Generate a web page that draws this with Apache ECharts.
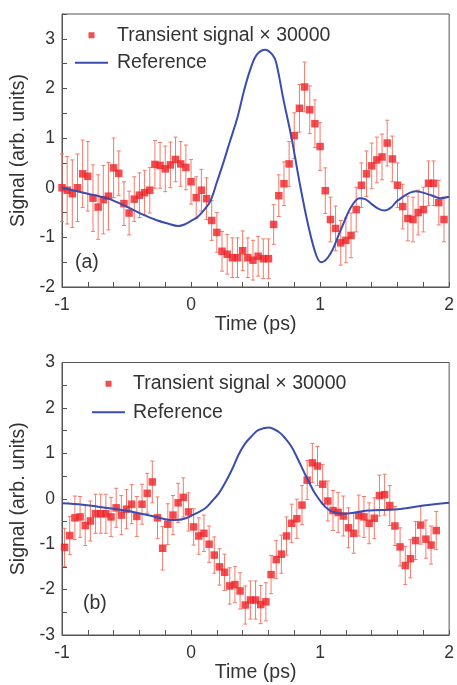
<!DOCTYPE html>
<html><head><meta charset="utf-8">
<script src="https://cdn.jsdelivr.net/npm/echarts@6/dist/echarts.min.js"></script>
<style>html,body{margin:0;padding:0;background:#fff}#c{width:457px;height:685px}</style>
</head><body><div id="c"></div>
<script>
// ---------- Panel (a) ----------
const timeA = [-1.00,-0.96,-0.92,-0.88,-0.84,-0.80,-0.76,-0.72,-0.68,-0.64,-0.60,-0.56,-0.52,-0.48,-0.44,-0.40,-0.36,-0.32,-0.28,-0.24,-0.20,-0.16,-0.12,-0.08,-0.04,0.00,0.04,0.08,0.12,0.16,0.20,0.24,0.28,0.32,0.36,0.40,0.44,0.48,0.52,0.56,0.60,0.64,0.68,0.72,0.76,0.80,0.84,0.88,0.92,0.96,1.00,1.04,1.08,1.12,1.16,1.20,1.24,1.28,1.32,1.36,1.40,1.44,1.48,1.52,1.56,1.60,1.64,1.68,1.72,1.76,1.80,1.84,1.88,1.92,1.96];
const signalA = [0.00,-0.05,-0.12,0.00,0.28,0.23,-0.21,-0.39,-0.24,-0.17,
  0.40,0.29,-0.32,-0.51,-0.23,-0.15,-0.10,-0.05,0.47,0.45,
  0.38,0.46,0.57,0.48,0.41,0.12,-0.20,-0.05,-0.22,-0.66,
  -0.90,-1.28,-1.34,-1.41,-1.41,-1.27,-1.41,-1.46,-1.38,-1.43,
  -1.43,-0.74,-0.16,0.08,0.48,1.05,1.60,2.03,1.57,1.29,
  0.83,-0.06,-0.64,-0.82,-1.11,-1.06,-0.96,-0.44,0.05,0.28,
  0.44,0.56,0.62,0.90,0.58,0.05,-0.38,-0.62,-0.64,-0.50,
  -0.44,0.09,0.09,-0.30,-0.64];
const errA = [0.68,0.68,0.68,0.68,0.68,0.70,0.67,0.65,0.69,0.68,
  0.60,0.45,0.44,0.44,0.45,0.45,0.45,0.46,0.48,0.46,
  0.46,0.46,0.45,0.45,0.45,0.45,0.42,0.42,0.42,0.40,
  0.40,0.40,0.40,0.40,0.40,0.40,0.40,0.40,0.40,0.40,
  0.40,0.40,0.42,0.44,0.45,0.46,0.48,0.50,0.48,0.48,
  0.48,0.46,0.45,0.45,0.45,0.45,0.45,0.45,0.45,0.46,
  0.46,0.46,0.46,0.46,0.46,0.45,0.45,0.45,0.45,0.45,
  0.45,0.45,0.45,0.45,0.45];
const refTimeA = [-1.00,-0.90,-0.80,-0.70,-0.64,-0.50,-0.39,-0.26,-0.18,-0.10,-0.05,0.00,0.05,0.10,0.15,0.20,0.25,0.30,0.36,0.41,0.46,0.51,0.575,0.63,0.66,0.715,0.78,0.845,0.91,0.97,1.01,1.08,1.16,1.24,1.305,1.35,1.40,1.45,1.50,1.55,1.60,1.74,1.86,1.93,2.00];
const refA = [0.00,-0.06,-0.12,-0.18,-0.22,-0.38,-0.52,-0.66,-0.72,-0.77,-0.74,-0.67,-0.59,-0.45,-0.27,0.11,0.50,0.92,1.42,1.95,2.39,2.68,2.78,2.68,2.52,1.79,0.99,0.05,-0.78,-1.36,-1.50,-1.33,-0.85,-0.39,-0.21,-0.23,-0.33,-0.42,-0.46,-0.40,-0.26,-0.07,-0.15,-0.21,-0.18];

// ---------- Panel (b) ----------
const timeB = [-0.98,-0.94,-0.90,-0.86,-0.82,-0.78,-0.74,-0.70,-0.66,-0.62,-0.58,-0.54,-0.50,-0.46,-0.42,-0.38,-0.34,-0.30,-0.26,-0.22,-0.18,-0.14,-0.10,-0.06,-0.02,0.02,0.06,0.10,0.14,0.18,0.22,0.26,0.30,0.34,0.38,0.42,0.46,0.50,0.54,0.58,0.62,0.66,0.70,0.74,0.78,0.82,0.86,0.90,0.94,0.98,1.02,1.06,1.10,1.14,1.18,1.22,1.26,1.30,1.34,1.38,1.42,1.46,1.50,1.54,1.58,1.62,1.66,1.70,1.74,1.78,1.82,1.86,1.90];
const signalB = [-1.07,-0.81,-0.42,-0.40,-0.59,-0.49,-0.33,-0.33,-0.33,-0.40,
  -0.20,-0.36,-0.23,-0.12,-0.39,-0.12,0.12,0.37,-0.42,-1.09,
  -0.56,-0.36,-0.09,0.03,-0.29,-0.62,-0.82,-0.76,-1.00,-1.24,
  -1.50,-1.62,-1.92,-1.89,-2.03,-2.34,-2.23,-2.23,-2.33,-2.27,
  -1.67,-1.34,-1.22,-0.82,-0.54,-0.44,-0.14,0.41,0.79,0.72,
  0.32,-0.05,-0.26,-0.30,-0.38,-0.64,-0.76,-0.37,-0.40,-0.54,
  -0.43,0.07,0.09,-0.15,-0.60,-1.06,-1.47,-1.32,-0.92,-0.58,
  -0.89,-1.02,-0.70];
const errB = [0.42,0.42,0.48,0.45,0.44,0.44,0.43,0.43,0.43,0.43,
  0.43,0.43,0.43,0.43,0.44,0.44,0.44,0.46,0.46,0.48,
  0.45,0.43,0.43,0.43,0.42,0.40,0.40,0.40,0.40,0.40,
  0.40,0.40,0.40,0.40,0.40,0.42,0.42,0.42,0.42,0.42,
  0.42,0.42,0.42,0.42,0.42,0.43,0.43,0.43,0.43,0.43,
  0.43,0.44,0.44,0.44,0.44,0.44,0.44,0.45,0.45,0.45,
  0.45,0.45,0.45,0.44,0.43,0.42,0.42,0.42,0.42,0.42,
  0.42,0.42,0.42];
const refTimeB = [-1.00,-0.84,-0.71,-0.58,-0.45,-0.32,-0.20,-0.12,-0.04,0.04,0.11,0.16,0.215,0.27,0.32,0.37,0.42,0.47,0.52,0.60,0.68,0.73,0.78,0.83,0.88,0.92,0.96,1.04,1.10,1.19,1.37,1.60,1.80,2.00];
const refB = [-0.10,-0.13,-0.18,-0.23,-0.29,-0.37,-0.45,-0.47,-0.43,-0.32,-0.21,-0.06,0.12,0.38,0.66,0.98,1.22,1.38,1.51,1.57,1.47,1.33,1.14,0.86,0.56,0.33,0.12,-0.18,-0.29,-0.33,-0.26,-0.23,-0.15,-0.09];

const seriesNames = ['Transient signal \u00d7 30000', 'Reference'];
const panelLabels = ['(a)', '(b)'];
const xLabel = 'Time (ps)';
const yLabel = 'Signal (arb. units)';

const FONT = "'Liberation Sans', Arial, Helvetica, sans-serif";
const TXT = '#333';
const AX = '#555';
const RED = '#ec2227';
const ERR = '#f37a6a';
const BLUE = '#3a4cb0';

const isInt = v => Math.abs(v - Math.round(v)) < 1e-6;
const intFmt = v => isInt(v) ? String(Math.round(v)) : '';

function zip3(t, v, e) { return t.map((x, i) => [x, v[i], e[i]]); }
function zip2(t, v) { return t.map((x, i) => [x, v[i]]); }

function errRender(params, api) {
  const x = api.value(0), y = api.value(1), e = api.value(2);
  const top = api.coord([x, y + e]);
  const bot = api.coord([x, y - e]);
  const cap = 2;
  const style = { stroke: ERR, lineWidth: 1 };
  return { type: 'group', children: [
    { type: 'line', shape: { x1: top[0], y1: top[1], x2: bot[0], y2: bot[1] }, style },
    { type: 'line', shape: { x1: top[0] - cap, y1: top[1], x2: top[0] + cap, y2: top[1] }, style },
    { type: 'line', shape: { x1: bot[0] - cap, y1: bot[1], x2: bot[0] + cap, y2: bot[1] }, style }
  ]};
}

function xAxisFor(idx, nameGap) {
  return {
    gridIndex: idx, type: 'value', min: -1, max: 2, interval: 0.2,
    axisLine: { show: true, onZero: false, lineStyle: { color: AX, width: 1 } },
    axisTick: { show: true, inside: true, length: 5, lineStyle: { color: AX } },
    axisLabel: { formatter: intFmt, fontSize: 17.5, color: TXT, margin: 9, fontFamily: FONT },
    splitLine: { show: false },
    name: xLabel, nameLocation: 'middle', nameGap: nameGap,
    nameTextStyle: { fontSize: 19.5, color: TXT, fontFamily: FONT }
  };
}
function yAxisFor(idx, mn, mx) {
  return {
    gridIndex: idx, type: 'value', min: mn, max: mx, interval: 0.5,
    axisLine: { show: true, onZero: false, lineStyle: { color: AX, width: 1 } },
    axisTick: { show: true, inside: true, length: 5, lineStyle: { color: AX } },
    axisLabel: { formatter: intFmt, fontSize: 17.5, color: TXT, margin: 7, fontFamily: FONT },
    splitLine: { show: false },
    name: yLabel, nameLocation: 'middle', nameGap: 23,
    nameTextStyle: { fontSize: 19.5, color: TXT, fontFamily: FONT }
  };
}

const squareIcon = 'path://M0,0L1,0L1,1L0,1Z';
const lineIcon = 'path://M0,0L33,0L33,2L0,2Z';
function legendFor(left, top, gap, pad) {
  return {
    left: left, top: top, orient: 'vertical', itemWidth: 33, itemHeight: 6, itemGap: gap,
    padding: 0, selectedMode: false,
    data: [{ name: seriesNames[0], icon: squareIcon }, { name: seriesNames[1], icon: lineIcon }],
    textStyle: { fontSize: 19.5, color: TXT, fontFamily: FONT, lineHeight: 19.5, padding: [0, 0, 0, pad] }
  };
}

function panelSeries(idx, t, v, e, rt, rv) {
  return [
    { type: 'custom', name: 'err' + idx, xAxisIndex: idx, yAxisIndex: idx, renderItem: errRender,
      data: zip3(t, v, e), encode: { x: 0, y: 1 }, z: 1, silent: true },
    { type: 'scatter', name: seriesNames[0], xAxisIndex: idx, yAxisIndex: idx, symbol: 'rect',
      symbolSize: 7.5, itemStyle: { color: RED }, data: zip2(t, v), z: 2 },
    { type: 'line', name: seriesNames[1], xAxisIndex: idx, yAxisIndex: idx, symbol: 'none', showSymbol: false,
      smooth: 0.35, lineStyle: { color: BLUE, width: 2 }, itemStyle: { color: BLUE },
      data: zip2(rt, rv), z: 3 }
  ];
}

const chart = echarts.init(document.getElementById('c'), null, { renderer: 'canvas' });
chart.setOption({
  animation: false,
  backgroundColor: '#fff',
  grid: [
    { left: 62, top: 14, width: 390, height: 273, show: true, borderColor: AX, borderWidth: 1, containLabel: false },
    { left: 62, top: 362.5, width: 390, height: 272.5, show: true, borderColor: AX, borderWidth: 1, containLabel: false }
  ],
  xAxis: [xAxisFor(0, 27), xAxisFor(1, 23)],
  yAxis: [yAxisFor(0, -2, 3.5), yAxisFor(1, -3, 3)],
  legend: [legendFor(75, 25.25, 7.5, 4), legendFor(92, 373.75, 8.5, 3)],
  graphic: [
    { type: 'text', left: 75, top: 253, style: { text: panelLabels[0], fontSize: 19.5, fill: TXT, fontFamily: FONT } },
    { type: 'text', left: 83, top: 594, style: { text: panelLabels[1], fontSize: 19.5, fill: TXT, fontFamily: FONT } }
  ],
  series: [].concat(
    panelSeries(0, timeA, signalA, errA, refTimeA, refA),
    panelSeries(1, timeB, signalB, errB, refTimeB, refB)
  )
});
</script>
</body></html>
